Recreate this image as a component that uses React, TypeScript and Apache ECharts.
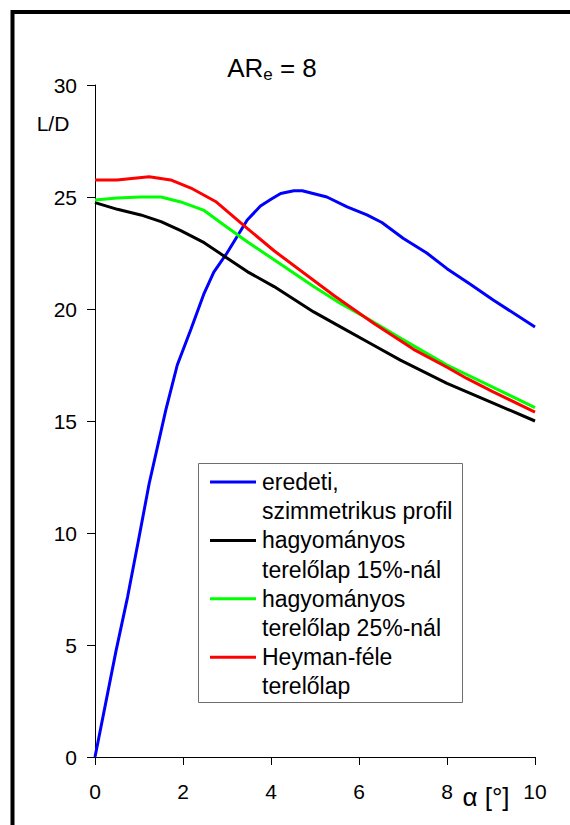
import React, { useEffect, useRef } from "react";
import * as echarts from "echarts";

const FONT = "'Liberation Sans', Arial, sans-serif";

const xTicks = [0, 2, 4, 6, 8, 10];
const yTicks = [0, 5, 10, 15, 20, 25, 30];

const blueAlpha = [0, 0.48, 0.74, 1.0, 1.23, 1.61, 1.87, 2.18, 2.48, 2.7, 3.0, 3.46, 3.76, 4.0, 4.22, 4.52, 4.71, 5.27, 5.73, 6.18, 6.52, 7.01, 7.54, 8.0, 8.53, 9.05, 10];
const blueLD = [0, 4.76, 7.14, 9.8, 12.2, 15.5, 17.5, 19.1, 20.7, 21.65, 22.5, 23.97, 24.6, 24.9, 25.16, 25.28, 25.28, 25.0, 24.56, 24.2, 23.86, 23.15, 22.5, 21.8, 21.1, 20.4, 19.2];

const blackAlpha = [0, 0.51, 1.04, 1.5, 1.95, 2.48, 2.93, 3.46, 4.07, 4.97, 5.58, 6.26, 6.94, 8.0, 9.05, 10];
const blackLD = [24.75, 24.45, 24.2, 23.9, 23.5, 22.96, 22.37, 21.67, 21.0, 19.87, 19.2, 18.46, 17.72, 16.68, 15.8, 15.0];

const greenAlpha = [0, 0.5, 1.04, 1.5, 1.95, 2.48, 2.93, 3.46, 4.07, 4.97, 5.58, 6.26, 6.94, 8.0, 9.05, 10];
const greenLD = [24.87, 24.95, 25.0, 25.0, 24.78, 24.4, 23.75, 23.0, 22.2, 21.0, 20.25, 19.5, 18.7, 17.5, 16.5, 15.6];

const redAlpha = [0, 0.5, 1.23, 1.72, 2.18, 2.74, 3.46, 4.07, 5.43, 6.34, 7.24, 8.0, 8.45, 9.05, 10];
const redLD = [25.76, 25.76, 25.9, 25.76, 25.4, 24.8, 23.6, 22.6, 20.6, 19.35, 18.2, 17.4, 16.9, 16.3, 15.4];

const seriesLabels = [
  ["eredeti,", "szimmetrikus profil"],
  ["hagyományos", "terelőlap 15%-nál"],
  ["hagyományos", "terelőlap 25%-nál"],
  ["Heyman-féle", "terelőlap"],
];
const seriesColors = ["#0000FF", "#000000", "#00FF00", "#FF0000"];

const title = { main: "AR", sub: "e", rest: " = 8" };
const yName = "L/D";
const xName = "α [°]";

function pairs(xs: number[], ys: number[]) {
  return xs.map((x, i) => [x, ys[i]]);
}

export default function App() {
  const ref = useRef<HTMLDivElement>(null);
  useEffect(() => {
    if (!ref.current) return;
    const chart = echarts.init(ref.current, undefined, { renderer: "svg" });
    const datasets = [
      pairs(blueAlpha, blueLD),
      pairs(blackAlpha, blackLD),
      pairs(greenAlpha, greenLD),
      pairs(redAlpha, redLD),
    ];

    const legendGraphics: any[] = [
      {
        type: "rect",
        shape: { x: 198.5, y: 463.5, width: 264, height: 239 },
        style: { fill: "#fff", stroke: "#6e6e6e", lineWidth: 1 },
        z: 10,
      },
    ];
    const rowPitch = 29.2;
    seriesLabels.forEach((lines, i) => {
      const y0 = 482 + i * 2 * rowPitch;
      legendGraphics.push({
        type: "line",
        shape: { x1: 210, y1: y0, x2: 256, y2: y0 },
        style: { stroke: seriesColors[i], lineWidth: 3 },
        z: 11,
      });
      lines.forEach((t, k) => {
        legendGraphics.push({
          type: "text",
          x: 262,
          y: y0 + k * rowPitch,
          style: {
            text: t,
            fontSize: 23,
            fontFamily: FONT,
            fill: "#000",
            textAlign: "left",
            textVerticalAlign: "middle",
          },
          z: 11,
        });
      });
    });

    chart.setOption({
      animation: false,
      backgroundColor: "#fff",
      grid: { left: 95, right: 35, top: 85, bottom: 68, containLabel: false },
      xAxis: {
        type: "value",
        min: 0,
        max: 10,
        interval: 2,
        axisLine: { show: true, onZero: false, lineStyle: { color: "#000", width: 1 } },
        axisTick: { show: true, length: 8, lineStyle: { color: "#000" } },
        splitLine: { show: false },
        axisLabel: {
          margin: 24,
          fontSize: 21,
          fontFamily: FONT,
          color: "#000",
          formatter: (v: number) => (xTicks.includes(v) ? String(v) : ""),
        },
      },
      yAxis: {
        type: "value",
        min: 0,
        max: 30,
        interval: 5,
        axisLine: { show: true, onZero: false, lineStyle: { color: "#000", width: 1 } },
        axisTick: { show: true, length: 8, lineStyle: { color: "#000" } },
        splitLine: { show: false },
        axisLabel: {
          margin: 18,
          fontSize: 21,
          fontFamily: FONT,
          color: "#000",
          formatter: (v: number) => (yTicks.includes(v) ? String(v) : ""),
        },
      },
      series: datasets.map((d, i) => ({
        type: "line",
        name: seriesLabels[i].join(" "),
        data: d,
        showSymbol: false,
        symbol: "none",
        lineStyle: { color: seriesColors[i], width: 3 },
        itemStyle: { color: seriesColors[i] },
        z: 2 + i,
      })),
      graphic: [
        {
          type: "rect",
          shape: { x: 12.5, y: 12, width: 700, height: 900 },
          style: { fill: "none", stroke: "#000", lineWidth: 4 },
          z: 20,
        },
        {
          type: "text",
          x: 272,
          y: 68,
          style: {
            text: `{a|${title.main}}{b|${title.sub}}{a|${title.rest}}`,
            textAlign: "center",
            textVerticalAlign: "middle",
            rich: {
              a: { fontSize: 26, fontFamily: FONT, fill: "#000", color: "#000" },
              b: { fontSize: 17, fontFamily: FONT, fill: "#000", color: "#000", padding: [12, 0, 0, 0] },
            },
          },
        },
        {
          type: "text",
          x: 53,
          y: 123,
          style: {
            text: yName,
            fontSize: 21,
            fontFamily: FONT,
            fill: "#000",
            textAlign: "center",
            textVerticalAlign: "middle",
          },
        },
        {
          type: "text",
          x: 486,
          y: 797,
          style: {
            text: xName,
            fontSize: 26,
            fontFamily: FONT,
            fill: "#000",
            textAlign: "center",
            textVerticalAlign: "middle",
          },
        },
        ...legendGraphics,
      ],
    });
    return () => chart.dispose();
  }, []);
  return (
    <div
      ref={ref}
      style={{ position: "fixed", left: 0, top: 0, width: 570, height: 825 }}
    />
  );
}
